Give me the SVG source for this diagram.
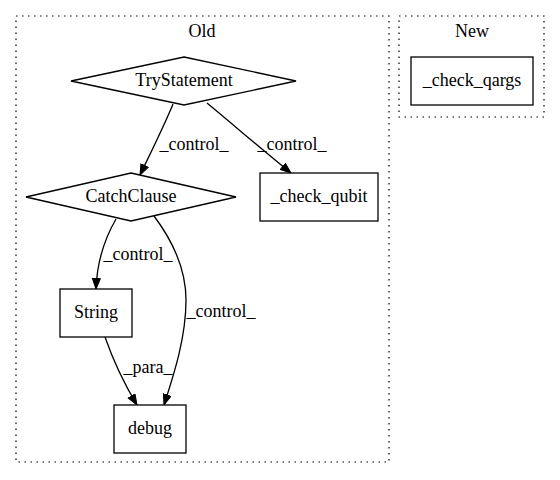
<svg xmlns="http://www.w3.org/2000/svg" width="560" height="480" viewBox="0 0 560 480">
<defs>
<style>
text{font-family:"Liberation Serif","Times New Roman",serif;font-size:18px;fill:#000;text-anchor:middle}
.cl{fill:none;stroke:#000;stroke-width:1.2;stroke-dasharray:1.5,4.5}
.nd{fill:#fff;stroke:#000;stroke-width:1.3}
.ed{fill:none;stroke:#000;stroke-width:1.3}
</style>
<marker id="ah" markerUnits="userSpaceOnUse" markerWidth="12" markerHeight="10" refX="11" refY="4.5" orient="auto">
<path d="M0.5,0.5 L11,4.5 L0.5,8.5 z" fill="#000" stroke="#000" stroke-width="1"/>
</marker>
</defs>
<rect width="560" height="480" fill="#fff"/>
<g id="cluster_old">
<rect class="cl" x="16" y="16" width="373" height="446"/>
<text x="202" y="37">Old</text>
</g>
<g id="cluster_new">
<rect class="cl" x="399" y="16" width="145" height="101"/>
<text x="472" y="37">New</text>
</g>
<g id="edges">
<path class="ed" marker-end="url(#ah)" d="M173,104 C165,124 152,150 140,175"/>
<path class="ed" marker-end="url(#ah)" d="M207,103 C230,122 265,152 291,173"/>
<path class="ed" marker-end="url(#ah)" d="M116,219 C105,238 97,262 96,289"/>
<path class="ed" marker-end="url(#ah)" d="M154,216 C172,240 186,270 186,300 C186,340 172,380 164,405"/>
<path class="ed" marker-end="url(#ah)" d="M105,337 C113,360 125,385 137,405"/>
<text x="194" y="150">_control_</text>
<text x="292" y="150">_control_</text>
<text x="138" y="260">_control_</text>
<text x="221" y="317">_control_</text>
<text x="148" y="373">_para_</text>
</g>
<g id="TryStatement">
<polygon class="nd" points="184,57 296,81 184,105 71,81"/>
<text x="184" y="86">TryStatement</text>
</g>
<g id="CatchClause">
<polygon class="nd" points="131,173 236,197 131,221 26,197"/>
<text x="131" y="202">CatchClause</text>
</g>
<g id="check_qubit">
<rect class="nd" x="260" y="173" width="118" height="48"/>
<text x="319" y="202">_check_qubit</text>
</g>
<g id="check_qargs">
<rect class="nd" x="411" y="57" width="122" height="48"/>
<text x="472" y="86">_check_qargs</text>
</g>
<g id="String">
<rect class="nd" x="60" y="289" width="72" height="48"/>
<text x="96" y="318">String</text>
</g>
<g id="debug">
<rect class="nd" x="114" y="405" width="72" height="48"/>
<text x="150" y="434">debug</text>
</g>
</svg>
